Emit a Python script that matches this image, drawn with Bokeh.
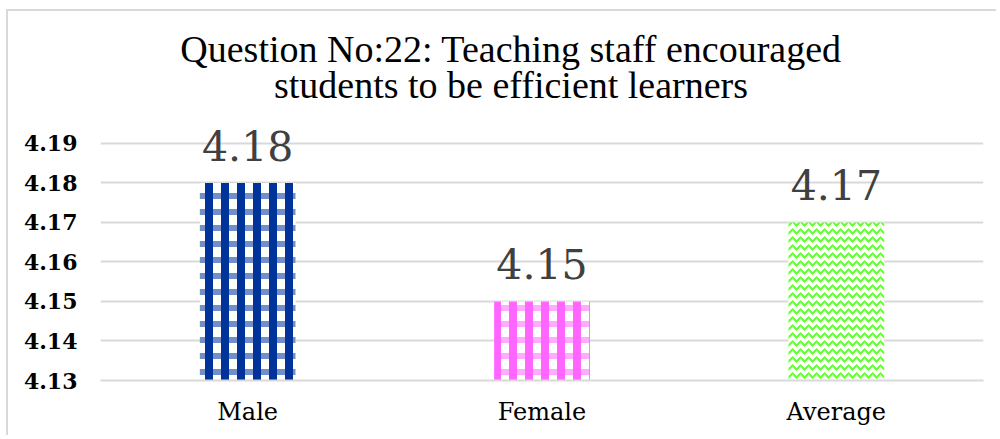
from bokeh.plotting import figure
from bokeh.models import ColumnDataSource, FixedTicker
from bokeh.core.properties import value
from bokeh.embed import file_html
from bokeh.resources import INLINE

categories = ["Male", "Female", "Average"]
scores = [4.18, 4.15, 4.17]
score_labels = ["4.18", "4.15", "4.17"]
colors = ["#003399", "#ff66ff", "#66ff33"]
y_ticks = [4.13, 4.14, 4.15, 4.16, 4.17, 4.18, 4.19]
title_lines = ["Question No:22: Teaching staff encouraged", "students to be efficient learners"]

BASE = 4.13
Y_END = 4.2234

p = figure(x_range=categories, y_range=(BASE, Y_END), width=990, height=426,
           output_backend="svg", toolbar_location=None,
           min_border_left=92, min_border_right=15, min_border_top=0, min_border_bottom=57)
p.styles = {"margin-left": "6px", "margin-top": "9px",
            "border-top": "2px solid #d9d9d9", "border-left": "2px solid #d9d9d9"}
p.outline_line_color = None
p.background_fill_color = "white"
p.border_fill_color = "white"

src = ColumnDataSource(dict(x=categories, top=scores, lab=score_labels, c=colors))

plaid = ColumnDataSource(dict(x=categories[:2], top=scores[:2], c=colors[:2]))
wave = ColumnDataSource(dict(x=categories[2:], top=scores[2:], c=colors[2:]))

p.vbar(x="x", top="top", bottom=BASE, width=0.325, source=plaid, fill_color="white",
       line_color=None, hatch_pattern="vertical_line", hatch_color="c",
       hatch_scale=16, hatch_weight=8)
p.vbar(x="x", top="top", bottom=BASE, width=0.325, source=plaid, fill_alpha=0,
       line_color=None, hatch_pattern="horizontal_line", hatch_color="c",
       hatch_scale=16, hatch_weight=6, hatch_alpha=0.55)
p.vbar(x="x", top="top", bottom=BASE, width=0.325, source=wave, fill_color="white",
       line_color=None, hatch_pattern="horizontal_wave", hatch_color="c",
       hatch_scale=8, hatch_weight=2)

p.text(x="x", y="top", text="lab", source=src, text_align="center",
       text_baseline="alphabetic", y_offset=-37, text_color="#404040",
       text_font=value("DejaVu Serif"), text_font_size="41px")

tsrc = ColumnDataSource(dict(x=["Female", "Female"], y=[4.2138, 4.2047], t=title_lines))
p.text(x="x", y="y", text="t", source=tsrc, text_align="center",
       text_baseline="alphabetic", x_offset=-31, text_color="black",
       text_font=value("Liberation Serif"), text_font_size="38px")

p.yaxis.ticker = FixedTicker(ticks=y_ticks)
p.yaxis.formatter.use_scientific = False
p.yaxis.axis_line_color = None
p.yaxis.major_tick_line_color = None
p.yaxis.minor_tick_line_color = None
p.yaxis.major_label_text_font = "DejaVu Serif"
p.yaxis.major_label_text_font_style = "bold"
p.yaxis.major_label_text_font_size = "22px"
p.yaxis.major_label_text_color = "black"
p.yaxis.major_label_standoff = 17

p.xaxis.axis_line_color = "#d9d9d9"
p.xaxis.axis_line_width = 2
p.xaxis.major_tick_line_color = None
p.xaxis.minor_tick_line_color = None
p.xaxis.major_label_text_font = "DejaVu Serif"
p.xaxis.major_label_text_font_size = "24px"
p.xaxis.major_label_text_color = "black"
p.xaxis.major_label_standoff = 11

p.xgrid.grid_line_color = None
p.ygrid.ticker = FixedTicker(ticks=y_ticks)
p.ygrid.grid_line_color = "#d9d9d9"
p.ygrid.grid_line_width = 2

open("out.html", "w").write(file_html(p, INLINE))
